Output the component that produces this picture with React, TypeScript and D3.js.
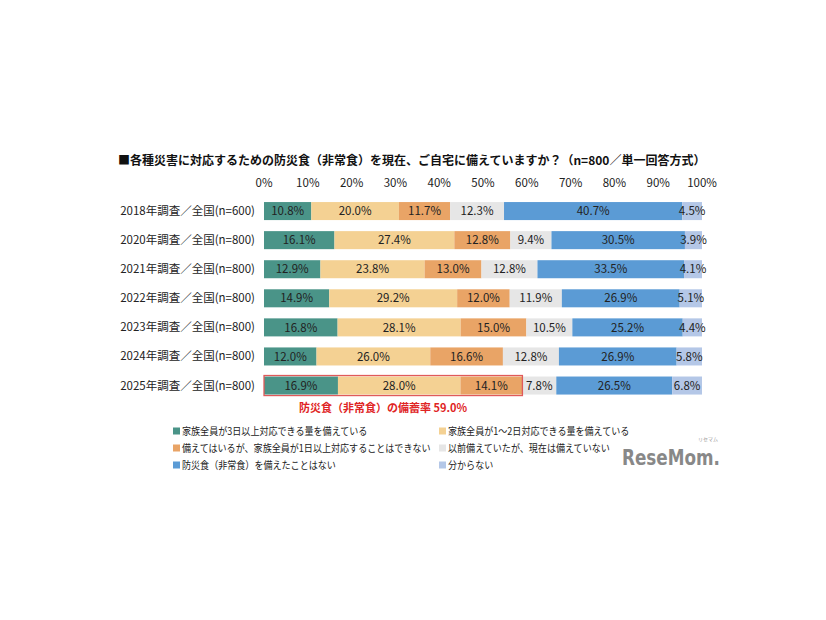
import React from "react";
import * as d3 from "d3";

const categories = [
  "2018年調査／全国(n=600)",
  "2020年調査／全国(n=800)",
  "2021年調査／全国(n=800)",
  "2022年調査／全国(n=800)",
  "2023年調査／全国(n=800)",
  "2024年調査／全国(n=800)",
  "2025年調査／全国(n=800)",
];

const seriesNames = [
  "家族全員が3日以上対応できる量を備えている",
  "家族全員が1～2日対応できる量を備えている",
  "備えてはいるが、家族全員が1日以上対応することはできない",
  "以前備えていたが、現在は備えていない",
  "防災食（非常食）を備えたことはない",
  "分からない",
];

const threeDaysPlus = [10.8, 16.1, 12.9, 14.9, 16.8, 12.0, 16.9];
const oneToTwoDays = [20.0, 27.4, 23.8, 29.2, 28.1, 26.0, 28.0];
const lessThanOneDay = [11.7, 12.8, 13.0, 12.0, 15.0, 16.6, 14.1];
const previouslyStocked = [12.3, 9.4, 12.8, 11.9, 10.5, 12.8, 7.8];
const neverStocked = [40.7, 30.5, 33.5, 26.9, 25.2, 26.9, 26.5];
const unknown = [4.5, 3.9, 4.1, 5.1, 4.4, 5.8, 6.8];

const tickValues = [0, 10, 20, 30, 40, 50, 60, 70, 80, 90, 100];
const stockRateLabel = "防災食（非常食）の備蓄率 59.0%";
const stockRate = 59.0;

const colors = ["#4a9488", "#f4d193", "#e9a466", "#e6e6e6", "#5b9bd5", "#b4c7e7"];

const FONT = "'Noto Sans CJK JP', 'Noto Sans', sans-serif";

export default function App() {
  const W = 826;
  const H = 620;
  const allSeries = [threeDaysPlus, oneToTwoDays, lessThanOneDay, previouslyStocked, neverStocked, unknown];

  const rows = categories.map((c, i) => {
    const obj: any = { cat: c };
    allSeries.forEach((s, k) => (obj["s" + k] = s[i]));
    return obj;
  });
  const keys = allSeries.map((_, k) => "s" + k);
  const stacked = d3.stack().keys(keys).offset(d3.stackOffsetExpand)(rows);

  const x = d3.scaleLinear().domain([0, 1]).range([264, 702]);
  const xPct = d3.scaleLinear().domain([0, 100]).range([264, 702]);
  const y = d3.scaleBand().domain(categories).range([191, 405.6]).padding(0.38);
  const bw = y.bandwidth();

  const lastCat = categories[categories.length - 1];
  const boxY = (y(lastCat) as number) - 1;

  const legendX = [173, 439];
  const legendY = [431, 448, 465];

  return (
    <svg
      width={W}
      height={H}
      style={{ position: "absolute", left: 0, top: 0, background: "#fff" }}
      fontFamily={FONT}
    >
      <rect x={0} y={0} width={W} height={H} fill="#fff" />
      <text x={118} y={165} fontSize={12} fontWeight="bold" fill="#111">
        ■各種災害に対応するための防災食（非常食）を現在、ご自宅に備えていますか？（n=800／単一回答方式）
      </text>

      {tickValues.map((t) => (
        <text key={t} x={xPct(t)} y={187} fontSize={11.5} textAnchor="middle" fill="#222">
          {t}%
        </text>
      ))}

      {categories.map((c) => (
        <text
          key={c}
          x={255}
          y={(y(c) as number) + bw / 2}
          dy="0.35em"
          fontSize={11.5}
          textAnchor="end"
          fill="#222"
        >
          {c}
        </text>
      ))}

      {stacked.map((layer, k) => (
        <g key={k} fill={colors[k]}>
          {layer.map((d, i) => (
            <rect
              key={i}
              x={x(d[0])}
              y={y(categories[i]) as number}
              width={x(d[1]) - x(d[0])}
              height={bw}
            />
          ))}
        </g>
      ))}

      {stacked.map((layer, k) => (
        <g key={"l" + k}>
          {layer.map((d, i) => (
            <text
              key={i}
              x={(x(d[0]) + x(d[1])) / 2}
              y={(y(categories[i]) as number) + bw / 2}
              dy="0.36em"
              fontSize={11.5}
              textAnchor="middle"
              fill="#222"
            >
              {allSeries[k][i].toFixed(1)}%
            </text>
          ))}
        </g>
      ))}

      <rect
        x={xPct(0)}
        y={boxY}
        width={xPct(stockRate) - xPct(0)}
        height={bw + 2}
        fill="none"
        stroke="#e05a5a"
        strokeWidth={1.3}
      />
      <text x={383} y={412} fontSize={11} fontWeight="bold" fill="#e02424" textAnchor="middle">
        {stockRateLabel}
      </text>

      {seriesNames.map((name, k) => {
        const col = k % 2;
        const row = Math.floor(k / 2);
        return (
          <g key={name}>
            <rect x={legendX[col]} y={legendY[row] - 3.5} width={7} height={7} fill={colors[k]} />
            <g transform={`translate(${legendX[col] + 9},${legendY[row]}) scale(0.88,1)`}>
              <text x={0} y={0} dy="0.35em" fontSize={10.3} fill="#222">
                {name}
              </text>
            </g>
          </g>
        );
      })}

      <text x={708} y={441} fontSize={5} fill="#999" textAnchor="middle">リセマム</text>
      <text
        x={622}
        y={465}
        fontSize={21}
        fontWeight="bold"
        fill="#888"
        fontFamily="'DejaVu Sans', sans-serif"
        textLength={98}
        lengthAdjust="spacingAndGlyphs"
      >
        ReseMom.
      </text>
    </svg>
  );
}
